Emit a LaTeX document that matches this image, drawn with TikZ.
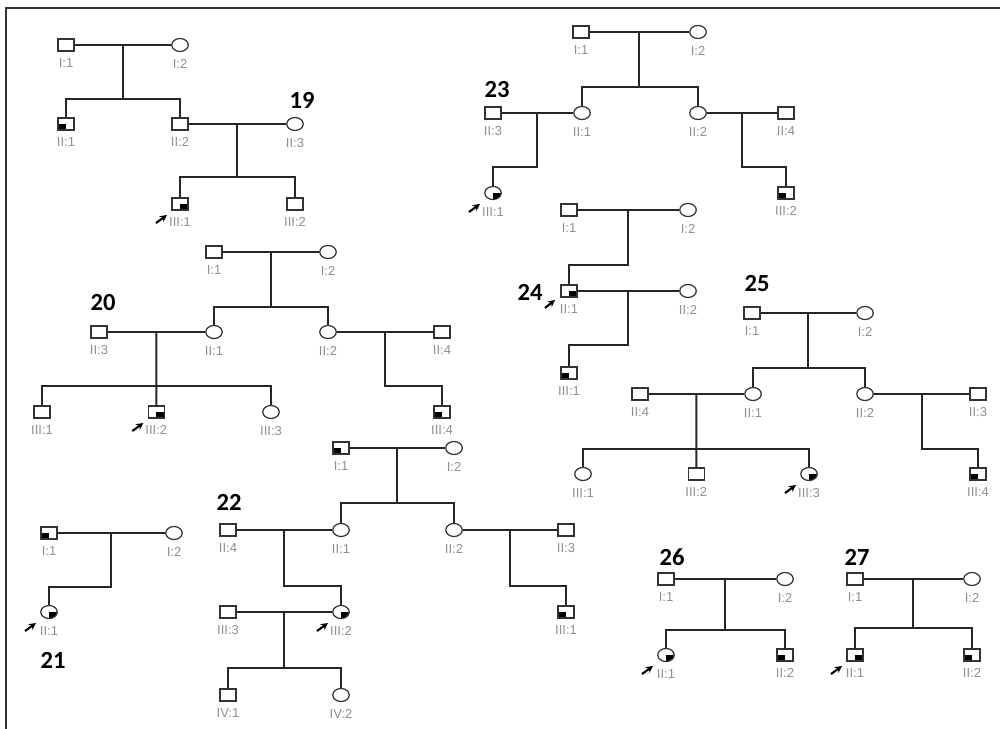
\documentclass[tikz,border=0pt]{standalone}
\usepackage{fontspec}
\setmainfont{Liberation Sans}
\newfontfamily\numfont{Carlito}
\usetikzlibrary{arrows.meta,calc,shapes.geometric}
\definecolor{lblgray}{HTML}{8E8E8E}
\tikzset{
 rel/.style={line width=1.1pt,draw=black!85},
 boxline/.style={line width=1.2pt,draw=black!80},
 male/.style={rectangle,draw=black!80,line width=.7pt,fill=white,minimum width=.32cm,minimum height=.24cm,inner sep=0},
 female/.style={ellipse,draw=black!80,line width=.7pt,fill=white,minimum width=.33cm,minimum height=.26cm,inner sep=0},
 affbl/.style={path picture={\fill[black] (path picture bounding box.south west) rectangle (path picture bounding box.center);}},
 affbr/.style={path picture={\fill[black] (path picture bounding box.south east) rectangle (path picture bounding box.center);}},
 lbl/.style={font=\fontsize{7.4}{8}\selectfont,text=lblgray,inner sep=1pt,yshift=-2.8pt},
 pednum/.style={font=\numfont\bfseries\fontsize{14}{16}\selectfont,inner sep=0},
 probarrow/.style={line width=1.2pt,-{Stealth[length=4pt,width=4pt]}}
}
\begin{document}
\begin{tikzpicture}[x=0.02cm,y=-0.02cm]
\useasboundingbox (0,0) rectangle (1000,729);
\draw[boxline] (6,729) -- (6,8) -- (1000,8);
% pedigree 19
\node[pednum] (n19) at (302,100) {19};
\node[male,label={[lbl]below:{I:1}}] (p19I1) at (66,45) {};
\node[female,label={[lbl]below:{I:2}}] (p19I2) at (180,45) {};
\node[male,affbl,label={[lbl]below:{II:1}}] (p19II1) at (66,124) {};
\node[male,label={[lbl]below:{II:2}}] (p19II2) at (180,124) {};
\node[female,label={[lbl]below:{II:3}}] (p19II3) at (295,124) {};
\node[male,affbr,label={[lbl]below:{III:1}}] (p19III1) at (180,204) {};
\node[male,label={[lbl]below:{III:2}}] (p19III2) at (295,204) {};
\draw[rel] (p19I1) -- (p19I2) coordinate[midway] (m19a);
\draw[rel] (m19a) -- ++(0,54) coordinate (s19a);
\draw[rel] (p19II1) |- (s19a) -| (p19II2);
\draw[rel] (p19II2) -- (p19II3) coordinate[midway] (m19b);
\draw[rel] (m19b) -- ++(0,53) coordinate (s19b);
\draw[rel] (p19III1) |- (s19b) -| (p19III2);
\draw[probarrow] ($(p19III1)+(-24,19)$) -- ($(p19III1)+(-13,11)$);
% pedigree 23
\node[pednum] (n23) at (497,90) {23};
\node[male,label={[lbl]below:{I:1}}] (p23I1) at (581,32) {};
\node[female,label={[lbl]below:{I:2}}] (p23I2) at (698,32) {};
\node[male,label={[lbl]below:{II:3}}] (p23II3) at (493,113) {};
\node[female,label={[lbl]below:{II:1}}] (p23II1) at (582,113) {};
\node[female,label={[lbl]below:{II:2}}] (p23II2) at (698,113) {};
\node[male,label={[lbl]below:{II:4}}] (p23II4) at (786,113) {};
\node[female,affbr,label={[lbl]below:{III:1}}] (p23III1) at (493,193) {};
\node[male,affbl,label={[lbl]below:{III:2}}] (p23III2) at (786,193) {};
\draw[rel] (p23I1) -- (p23I2) coordinate[midway] (m23a);
\draw[rel] (m23a) -- ++(0,55) coordinate (s23a);
\draw[rel] (p23II1) |- (s23a) -| (p23II2);
\draw[rel] (p23II3) -- (p23II1) coordinate[midway] (m23b);
\draw[rel] (m23b) -- ++(0,54) coordinate (s23b) -| (p23III1);
\draw[rel] (p23II2) -- (p23II4) coordinate[midway] (m23c);
\draw[rel] (m23c) -- ++(0,54) coordinate (s23c) -| (p23III2);
\draw[probarrow] ($(p23III1)+(-24,19)$) -- ($(p23III1)+(-13,11)$);
% pedigree 24
\node[pednum] (n24) at (530,292) {24};
\node[male,label={[lbl]below:{I:1}}] (p24I1) at (569,210) {};
\node[female,label={[lbl]below:{I:2}}] (p24I2) at (688,210) {};
\node[male,affbr,label={[lbl]below:{II:1}}] (p24II1) at (569,291) {};
\node[female,label={[lbl]below:{II:2}}] (p24II2) at (688,291) {};
\node[male,affbl,label={[lbl]below:{III:1}}] (p24III1) at (569,373) {};
\draw[rel] (p24I1) -- (p24I2) coordinate[midway] (m24a);
\draw[rel] (m24a) -- ++(0,55) coordinate (s24a) -| (p24II1);
\draw[rel] (p24II1) -- (p24II2) coordinate[midway] (m24b);
\draw[rel] (m24b) -- ++(0,54) coordinate (s24b) -| (p24III1);
\draw[probarrow] ($(p24II1)+(-24,17)$) -- ($(p24II1)+(-14,9)$);
% pedigree 25
\node[pednum] (n25) at (757,284) {25};
\node[male,label={[lbl]below:{I:1}}] (p25I1) at (752,313) {};
\node[female,label={[lbl]below:{I:2}}] (p25I2) at (865,313) {};
\node[male,label={[lbl]below:{II:4}}] (p25II4) at (640,394) {};
\node[female,label={[lbl]below:{II:1}}] (p25II1) at (753,394) {};
\node[female,label={[lbl]below:{II:2}}] (p25II2) at (865,394) {};
\node[male,label={[lbl]below:{II:3}}] (p25II3) at (978,394) {};
\node[female,label={[lbl]below:{III:1}}] (p25III1) at (583,474) {};
\node[male,label={[lbl]below:{III:2}}] (p25III2) at (696.3,474) {};
\node[female,affbr,label={[lbl]below:{III:3}}] (p25III3) at (809,474) {};
\node[male,affbl,label={[lbl]below:{III:4}}] (p25III4) at (978,474) {};
\draw[rel] (p25I1) -- (p25I2) coordinate[midway] (m25a);
\draw[rel] (m25a) -- ++(0,55) coordinate (s25a);
\draw[rel] (p25II1) |- (s25a) -| (p25II2);
\draw[rel] (p25II4) -- (p25II1) coordinate[midway] (m25b);
\draw[rel] (m25b) -- (p25III2);
\draw[rel] (p25III1) |- ($(m25b)+(0,55)$) -| (p25III3);
\draw[rel] (p25II2) -- (p25II3) coordinate[midway] (m25c);
\draw[rel] (m25c) -- ++(0,55) coordinate (s25c) -| (p25III4);
\draw[probarrow] ($(p25III3)+(-24,19)$) -- ($(p25III3)+(-13,11)$);
% pedigree 20
\node[pednum] (n20) at (103,303) {20};
\node[male,label={[lbl]below:{I:1}}] (p20I1) at (214,252) {};
\node[female,label={[lbl]below:{I:2}}] (p20I2) at (328,252) {};
\node[male,label={[lbl]below:{II:3}}] (p20II3) at (99,332) {};
\node[female,label={[lbl]below:{II:1}}] (p20II1) at (214,332) {};
\node[female,label={[lbl]below:{II:2}}] (p20II2) at (328,332) {};
\node[male,label={[lbl]below:{II:4}}] (p20II4) at (442,332) {};
\node[male,label={[lbl]below:{III:1}}] (p20III1) at (42,412) {};
\node[male,affbr,label={[lbl]below:{III:2}}] (p20III2) at (156.3,412) {};
\node[female,label={[lbl]below:{III:3}}] (p20III3) at (271,412) {};
\node[male,affbl,label={[lbl]below:{III:4}}] (p20III4) at (442,412) {};
\draw[rel] (p20I1) -- (p20I2) coordinate[midway] (m20a);
\draw[rel] (m20a) -- ++(0,55) coordinate (s20a);
\draw[rel] (p20II1) |- (s20a) -| (p20II2);
\draw[rel] (p20II3) -- (p20II1) coordinate[midway] (m20b);
\draw[rel] (m20b) -- (p20III2);
\draw[rel] (p20III1) |- ($(m20b)+(0,54)$) -| (p20III3);
\draw[rel] (p20II2) -- (p20II4) coordinate[midway] (m20c);
\draw[rel] (m20c) -- ++(0,54) coordinate (s20c) -| (p20III4);
\draw[probarrow] ($(p20III2)+(-24,19)$) -- ($(p20III2)+(-13,11)$);
% pedigree 22
\node[pednum] (n22) at (229,502) {22};
\node[male,affbl,label={[lbl]below:{I:1}}] (p22I1) at (341,448) {};
\node[female,label={[lbl]below:{I:2}}] (p22I2) at (454,448) {};
\node[male,label={[lbl]below:{II:4}}] (p22II4) at (228,530) {};
\node[female,label={[lbl]below:{II:1}}] (p22II1) at (341,530) {};
\node[female,label={[lbl]below:{II:2}}] (p22II2) at (454,530) {};
\node[male,label={[lbl]below:{II:3}}] (p22II3) at (566,530) {};
\node[male,label={[lbl]below:{III:3}}] (p22III3) at (228,612) {};
\node[female,affbr,label={[lbl]below:{III:2}}] (p22III2) at (341,612) {};
\node[male,affbl,label={[lbl]below:{III:1}}] (p22III1) at (566,612) {};
\node[male,label={[lbl]below:{IV:1}}] (p22IV1) at (228,695) {};
\node[female,label={[lbl]below:{IV:2}}] (p22IV2) at (341,695) {};
\draw[rel] (p22I1) -- (p22I2) coordinate[midway] (m22a);
\draw[rel] (m22a) -- ++(0,55) coordinate (s22a);
\draw[rel] (p22II1) |- (s22a) -| (p22II2);
\draw[rel] (p22II4) -- (p22II1) coordinate[midway] (m22b);
\draw[rel] (m22b) -- ++(0,56) coordinate (s22b) -| (p22III2);
\draw[rel] (p22II2) -- (p22II3) coordinate[midway] (m22c);
\draw[rel] (m22c) -- ++(0,56) coordinate (s22c) -| (p22III1);
\draw[rel] (p22III3) -- (p22III2) coordinate[midway] (m22d);
\draw[rel] (m22d) -- ++(0,56) coordinate (s22d);
\draw[rel] (p22IV1) |- (s22d) -| (p22IV2);
\draw[probarrow] ($(p22III2)+(-24,19)$) -- ($(p22III2)+(-13,11)$);
% pedigree 21
\node[pednum] (n21) at (53,660) {21};
\node[male,affbl,label={[lbl]below:{I:1}}] (p21I1) at (49,533) {};
\node[female,label={[lbl]below:{I:2}}] (p21I2) at (174,533) {};
\node[female,affbr,label={[lbl]below:{II:1}}] (p21II1) at (49,612) {};
\draw[rel] (p21I1) -- (p21I2) coordinate[midway] (m21a);
\draw[rel] (m21a) -- ++(0,54) coordinate (s21a) -| (p21II1);
\draw[probarrow] ($(p21II1)+(-24,19)$) -- ($(p21II1)+(-13,11)$);
% pedigree 26
\node[pednum] (n26) at (672,557) {26};
\node[male,label={[lbl]below:{I:1}}] (p26I1) at (666,579) {};
\node[female,label={[lbl]below:{I:2}}] (p26I2) at (785,579) {};
\node[female,affbr,label={[lbl]below:{II:1}}] (p26II1) at (666,655) {};
\node[male,affbl,label={[lbl]below:{II:2}}] (p26II2) at (785,655) {};
\draw[rel] (p26I1) -- (p26I2) coordinate[midway] (m26a);
\draw[rel] (m26a) -- ++(0,51) coordinate (s26a);
\draw[rel] (p26II1) |- (s26a) -| (p26II2);
\draw[probarrow] ($(p26II1)+(-24,19)$) -- ($(p26II1)+(-13,11)$);
% pedigree 27
\node[pednum] (n27) at (857,557) {27};
\node[male,label={[lbl]below:{I:1}}] (p27I1) at (855,579) {};
\node[female,label={[lbl]below:{I:2}}] (p27I2) at (972,579) {};
\node[male,affbr,label={[lbl]below:{II:1}}] (p27II1) at (855,655) {};
\node[male,affbl,label={[lbl]below:{II:2}}] (p27II2) at (972,655) {};
\draw[rel] (p27I1) -- (p27I2) coordinate[midway] (m27a);
\draw[rel] (m27a) -- ++(0,49) coordinate (s27a);
\draw[rel] (p27II1) |- (s27a) -| (p27II2);
\draw[probarrow] ($(p27II1)+(-24,19)$) -- ($(p27II1)+(-13,11)$);
\end{tikzpicture}
\end{document}
